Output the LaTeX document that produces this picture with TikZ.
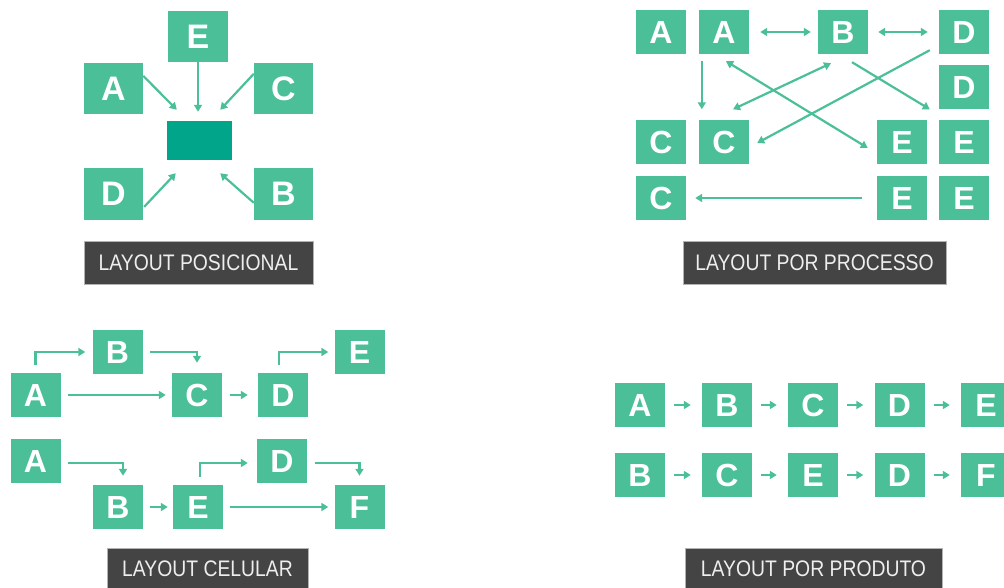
\documentclass[tikz,border=0pt]{standalone}
\usepackage{fontspec}
\setmainfont{Liberation Sans}
\newfontfamily\lblfont[FakeStretch=0.86]{Liberation Sans}
\usetikzlibrary{arrows.meta,calc}
\definecolor{boxgreen}{HTML}{4BBF97}
\definecolor{darkgreen}{HTML}{00A58A}
\definecolor{lblgray}{HTML}{444444}
\definecolor{lbltext}{HTML}{EEEEEE}
\tikzset{
  bx/.style={fill=boxgreen, draw=none, minimum width=50pt, minimum height=44pt, inner sep=0pt,
    text=white, font=\fontsize{32}{32}\selectfont\bfseries},
  bigbx/.style={bx, minimum width=59pt, minimum height=51pt, font=\fontsize{34}{34}\selectfont\bfseries},
  lbl/.style={fill=lblgray, draw=gray!60, line width=0.8pt, inner sep=0pt, minimum height=43pt,
    text=lbltext, font=\lblfont\fontsize{22.5}{22.5}\selectfont},
  ar/.style={draw=boxgreen, line width=2.2pt, -{Triangle[length=7pt,width=8pt]}},
  dar/.style={draw=boxgreen, line width=2.2pt, {Triangle[length=7pt,width=8pt]}-{Triangle[length=7pt,width=8pt]}},
}
\begin{document}
\begin{tikzpicture}[x=1pt,y=-1pt]
\useasboundingbox (0,0) rectangle (1004,588);
% ---------- Layout posicional ----------
\node[bigbx, minimum width=60pt] (q1e) at (198,36.5) {E};
\node[bigbx] (q1a) at (113.5,88.5) {A};
\node[bigbx] (q1c) at (283.5,88.5) {C};
\node[bigbx, minimum height=52pt] (q1d) at (113.5,194) {D};
\node[bigbx, minimum height=52pt] (q1b) at (283.5,194) {B};
\node[fill=darkgreen, minimum width=65pt, minimum height=39pt, inner sep=0pt] (q1m) at (199.5,140.5) {};
\node[lbl, minimum width=229pt] (q1l) at (198.5,262.5) {LAYOUT POSICIONAL};
\draw[ar] ($(q1a.north east)+(0,13)$) -- ($(q1m.north west)+(10,-11)$);
\draw[ar] (q1e.south) -- ($(q1m.north)+(-1.5,-9)$);
\draw[ar] ($(q1c.north west)+(0,11)$) -- ($(q1m.north east)+(-12,-11)$);
\draw[ar] ($(q1d.north east)+(1,39)$) -- ($(q1m.south west)+(9,13)$);
\draw[ar] ($(q1b.north west)+(0,35)$) -- ($(q1m.south east)+(-12,13)$);
% ---------- Layout por processo ----------
\node[bx] (pa1) at (661,32) {A};
\node[bx] (pa2) at (724,32) {A};
\node[bx] (pb) at (843,32) {B};
\node[bx] (pd1) at (964,32) {D};
\node[bx] (pd2) at (964,87.5) {D};
\node[bx] (pc1) at (661,142.5) {C};
\node[bx] (pc2) at (724,142.5) {C};
\node[bx] (pe1) at (902,142.5) {E};
\node[bx] (pe2) at (964,142.5) {E};
\node[bx] (pc3) at (661,198) {C};
\node[bx] (pe3) at (902,198) {E};
\node[bx] (pe4) at (964,198) {E};
\node[lbl, minimum width=263pt] (pl) at (814.5,262.5) {LAYOUT POR PROCESSO};
\draw[dar, shorten <=11pt, shorten >=7pt] (pa2.east) -- (pb.west);
\draw[dar, shorten <=10pt, shorten >=11pt] (pb.east) -- (pd1.west);
\draw[ar] ($(pa2.south west)+(3,7)$) -- ($(pc2.north west)+(3,-11)$);
\draw[dar] ($(pa2.south)+(2,7)$) -- ($(pe1.west)+(-9,5.5)$);
\draw[dar] ($(pb.south)+(-12,9)$) -- ($(pc2.north)+(9,-11)$);
\draw[ar] ($(pb.south)+(9,8)$) -- ($(pe2.north west)+(-9,-11)$);
\draw[ar] ($(pd1.south west)+(-9,-4)$) -- ($(pc2.east)+(8,0.5)$);
\draw[ar, shorten <=15pt, shorten >=9pt] (pe3.west) -- (pc3.east);
% ---------- Layout celular ----------
\node[bx] (cb1) at (117.5,352) {B};
\node[bx] (ca1) at (35.5,395) {A};
\node[bx] (cc) at (197,395) {C};
\node[bx] (cd1) at (283,395) {D};
\node[bx] (ce1) at (359.5,352) {E};
\node[bx] (ca2) at (35.5,461) {A};
\node[bx] (cd2) at (282,461) {D};
\node[bx] (cb2) at (118,507) {B};
\node[bx] (ce2) at (198,507) {E};
\node[bx] (cf) at (359.5,507) {F};
\node[lbl, minimum width=201pt, minimum height=42pt] (cl) at (207.5,569) {LAYOUT CELULAR};
\draw[ar] ($(ca1.north)+(0,-8)$) |- ($(cb1.west)+(-7,0)$);
\draw[ar] ($(cb1.east)+(7,0)$) -| ($(cc.north)+(0,-10)$);
\draw[ar, shorten <=7pt, shorten >=6pt] (ca1.east) -- (cc.west);
\draw[ar, shorten <=8pt, shorten >=10pt] (cc.east) -- (cd1.west);
\draw[ar] ($(cd1.north)+(-4,-8)$) |- ($(ce1.west)+(-6,0)$);
\draw[ar] ($(ca2.east)+(7,2)$) -| ($(cb2.north)+(5,-9)$);
\draw[ar, shorten <=7pt, shorten >=5pt] (cb2.east) -- (ce2.west);
\draw[ar] ($(ce2.north)+(2,-8)$) |- ($(cd2.west)+(-9,2)$);
\draw[ar] ($(cd2.east)+(8,2)$) -| ($(cf.north)+(0,-9)$);
\draw[ar, shorten <=7pt, shorten >=6pt] (ce2.east) -- (cf.west);
% ---------- Layout por produto ----------
\node[bx] (r1a) at (640,405) {A};
\node[bx] (r1b) at (727,405) {B};
\node[bx] (r1c) at (813,405) {C};
\node[bx] (r1d) at (899.5,405) {D};
\node[bx] (r1e) at (986,405) {E};
\node[bx] (r2b) at (640,475) {B};
\node[bx] (r2c) at (727,475) {C};
\node[bx] (r2e) at (813,475) {E};
\node[bx] (r2d) at (899.5,475) {D};
\node[bx] (r2f) at (986,475) {F};
\node[lbl, minimum width=257pt, minimum height=42pt] (rl) at (813.5,569) {LAYOUT POR PRODUTO};
\foreach \u/\v in {r1a/r1b,r1b/r1c,r1c/r1d,r1d/r1e,r2b/r2c,r2c/r2e,r2e/r2d,r2d/r2f}
  \draw[ar, shorten <=9pt, shorten >=11pt] (\u.east) -- (\v.west);
\end{tikzpicture}
\end{document}
